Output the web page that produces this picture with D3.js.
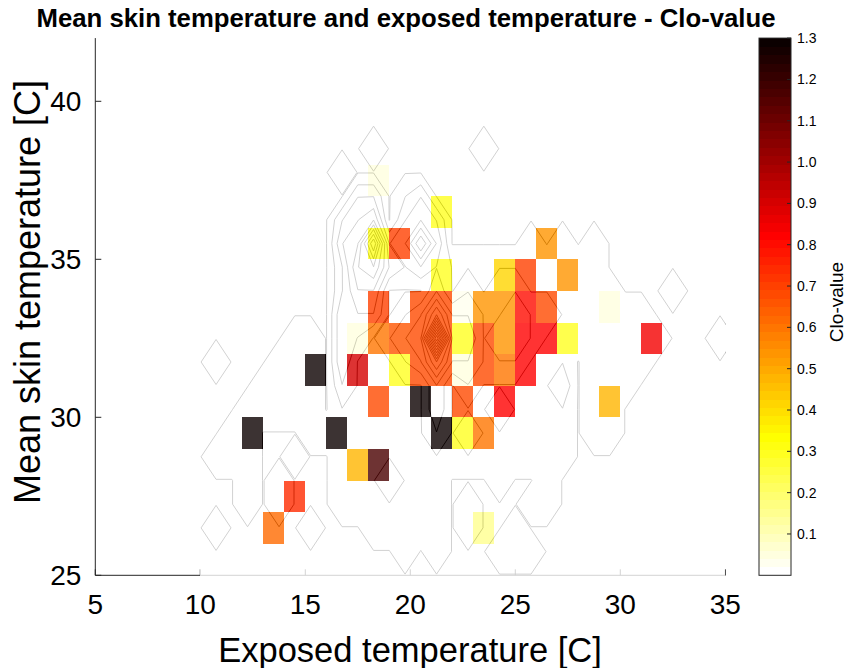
<!DOCTYPE html>
<html>
<head>
<meta charset="utf-8">
<script src="https://cdn.jsdelivr.net/npm/d3@7"></script>
<style>
  body { margin: 0; background: #fff; }
  svg text { font-family: "Liberation Sans", Arial, Helvetica, sans-serif; fill: #000; }
</style>
</head>
<body>
<svg id="chart" width="846" height="668"></svg>
<script>
// Mean clo-value per 1 °C x 1 °C bin: [exposed temp bin start, skin temp bin start, clo]
const cloCells = [
  [18, 37, 0.05],
  [21, 36, 0.30],
  [18, 35, 0.30], [19, 35, 0.70], [26, 35, 0.53],
  [21, 34, 0.30], [24, 34, 0.42], [25, 34, 0.70], [27, 34, 0.53],
  [18, 33, 0.70], [20, 33, 0.68], [21, 33, 0.68], [22, 33, 0.04], [23, 33, 0.53],
  [24, 33, 0.53], [25, 33, 0.80], [26, 33, 0.68], [29, 33, 0.05],
  [17, 32, 0.05], [18, 32, 0.60], [19, 32, 0.66], [20, 32, 0.68], [21, 32, 0.68],
  [22, 32, 0.30], [23, 32, 0.68], [24, 32, 0.53], [25, 32, 0.82], [26, 32, 0.82],
  [27, 32, 0.30], [31, 32, 0.84],
  [15, 31, 1.29], [17, 31, 0.90], [19, 31, 0.30], [20, 31, 0.68], [21, 31, 0.68],
  [22, 31, 0.05], [23, 31, 0.68], [24, 31, 0.60], [25, 31, 0.82],
  [18, 30, 0.68], [20, 30, 1.29], [22, 30, 0.68], [24, 30, 0.82], [29, 30, 0.47],
  [12, 29, 1.29], [16, 29, 1.29], [21, 29, 1.29], [22, 29, 0.30], [23, 29, 0.60],
  [17, 28, 0.47], [18, 28, 1.17],
  [14, 27, 0.75],
  [13, 26, 0.62], [23, 26, 0.15]
];

// Observation density on a 0.75 °C grid.
// Rows of occupied nodes (one observation each): [skin temp, [[exposed from, exposed to], ...]]
const densityRows = [
  [38.5,  [[18.25, 18.25], [23.5, 23.5]]],
  [37.75, [[16.75, 16.75]]],
  [37,    [[17.5, 18.25], [19.75, 20.5]]],
  [36.25, [[16.75, 18.25], [19.75, 21.25]]],
  [35.5,  [[16.75, 21.25], [25.75, 25.75], [27.25, 27.25], [28.75, 28.75]]],
  [34.75, [[16.75, 28.75]]],
  [34,    [[16.75, 29.5], [32.5, 32.5]]],
  [33.25, [[16.75, 31]]],
  [32.5,  [[14.5, 15.25], [16.75, 31.75], [34.75, 34.75]]],
  [31.75, [[10.75, 10.75], [13.75, 15.25], [16.75, 27.25], [28.75, 31]]],
  [31,    [[13, 15.25], [16.75, 27.25], [28.75, 30.25]]],
  [30.25, [[12.25, 15.25], [16.75, 27.25], [28.75, 29.5]]],
  [29.5,  [[11.5, 12.25], [15.25, 27.25], [28.75, 29.5]]],
  [28.75, [[10.75, 12.25], [14.5, 14.5], [16.75, 27.25]]],
  [28,    [[12.25, 12.25], [13.75, 13.75], [16.75, 21.25], [24.25, 24.25], [26.5, 26.5]]],
  [27.25, [[12.25, 12.25], [13.75, 13.75], [16.75, 21.25], [22.75, 22.75], [25.75, 26.5]]],
  [26.5,  [[10.75, 10.75], [15.25, 15.25], [18.25, 21.25], [22.75, 22.75], [25, 25]]],
  [25.75, [[19.75, 19.75], [21.25, 21.25], [24.25, 25.75]]]
];

// Nodes holding more than one observation: [exposed temp, skin temp, count]
const densityPeaks = [
  [18.25, 35.5, 9], [18.25, 34.75, 6], [18.25, 36.25, 4], [17.5, 35.5, 4],
  [17.5, 34.75, 5], [17.5, 36.25, 3], [17.5, 34, 4], [18.25, 34, 4],
  [16.75, 35.5, 3], [16.75, 34.75, 2], [16.75, 36.25, 2], [16.75, 34, 2],
  [16.75, 33.25, 3], [17.5, 33.25, 3], [16.75, 32.5, 3], [17.5, 32.5, 2],
  [16.75, 31.75, 3], [16.75, 31, 2], [17.5, 37, 2], [18.25, 37, 2],
  [19, 35.5, 2], [19, 34.75, 3], [18.25, 33.25, 3],
  [20.5, 35.5, 6], [19.75, 35.5, 3], [21.25, 35.5, 3], [20.5, 36.25, 3],
  [20.5, 34.75, 3], [19.75, 36.25, 2], [21.25, 36.25, 2], [19.75, 34.75, 2],
  [21.25, 34.75, 2], [20.5, 37, 2],
  [21.25, 32.5, 14], [21.25, 33.25, 6], [21.25, 31.75, 6], [20.5, 32.5, 4],
  [22, 32.5, 4], [20.5, 33.25, 3], [22, 33.25, 3], [20.5, 31.75, 3],
  [22, 31.75, 3], [21.25, 34, 3], [21.25, 31, 3], [19.75, 32.5, 3],
  [19.75, 33.25, 2], [19.75, 31.75, 2], [19, 32.5, 2], [21.25, 30.25, 3],
  [21.25, 29.5, 2],
  [22.75, 32.5, 4], [22.75, 33.25, 3], [22.75, 31.75, 3], [23.5, 32.5, 2],
  [23.5, 33.25, 2], [23.5, 31.75, 2], [22.75, 34, 2], [22.75, 31, 2],
  [24.25, 32.5, 3], [24.25, 33.25, 2], [24.25, 31.75, 2], [24.25, 34, 2],
  [25, 33.25, 3], [25, 32.5, 3], [25, 31.75, 2], [25, 34, 2],
  [25.75, 32.5, 2], [25.75, 33.25, 2], [26.5, 33.25, 2],
  [24.25, 30.25, 2], [22.75, 29.5, 2], [27.25, 31, 2], [19, 28, 2]
];

const xTicks = [5, 10, 15, 20, 25, 30, 35];
const yTicks = [25, 30, 35, 40];
const cbTicks = [0.1, 0.2, 0.3, 0.4, 0.5, 0.6, 0.7, 0.8, 0.9, 1.0, 1.1, 1.2, 1.3];

const titleText = "Mean skin temperature and exposed temperature - Clo-value";
const xLabel = "Exposed temperature [C]";
const yLabel = "Mean skin temperature [C]";
const cbLabel = "Clo-value";

// ---- layout ----
const svg = d3.select("#chart");
const x = d3.scaleLinear().domain([5, 35]).range([95.3, 725.3]);
const y = d3.scaleLinear().domain([25, 42]).range([575.3, 38.1]);
const axisColor = "#262626";

// inverted "hot" colormap with 64 levels, clim 0..1.3
function hotColors(m) {
  const n = Math.floor(3 / 8 * m), out = [];
  for (let k = 1; k <= m; k++) {
    const r = k <= n ? k / n : 1;
    const g = k <= n ? 0 : (k <= 2 * n ? (k - n) / n : 1);
    const b = k <= 2 * n ? 0 : (k - 2 * n) / (m - 2 * n);
    out.push(d3.rgb(r * 255, g * 255, b * 255).formatHex());
  }
  return out;
}
const cmap = hotColors(64).reverse();
const color = d3.scaleQuantize().domain([0, 1.3]).range(cmap);

const defs = svg.append("defs");
defs.append("clipPath").attr("id", "plotClip")
  .append("rect")
  .attr("x", x(5)).attr("y", y(42))
  .attr("width", x(35) - x(5)).attr("height", y(25) - y(42) + 1.5);

// ---- axes (drawn first; the translucent image lies over them) ----
const axes = svg.append("g");
axes.append("line").attr("x1", x(5)).attr("x2", x(5)).attr("y1", y(42)).attr("y2", y(25))
  .attr("stroke", axisColor).attr("stroke-width", 1);
axes.append("line").attr("x1", x(5)).attr("x2", x(35)).attr("y1", y(25)).attr("y2", y(25))
  .attr("stroke", axisColor).attr("stroke-width", 1);
axes.selectAll(".xt").data(xTicks).join("line")
  .attr("x1", d => x(d)).attr("x2", d => x(d))
  .attr("y1", y(25)).attr("y2", y(25) - 6)
  .attr("stroke", axisColor);
axes.selectAll(".yt").data(yTicks).join("line")
  .attr("x1", x(5)).attr("x2", x(5) + 6)
  .attr("y1", d => y(d)).attr("y2", d => y(d))
  .attr("stroke", axisColor);

// ---- density contours ----
const step = 0.75, gx0 = 9.25, gy0 = 23.5, nx = 38, ny = 25;
const grid = new Float64Array(nx * ny);
const node = (xv, yv) => Math.round((yv - gy0) / step) * nx + Math.round((xv - gx0) / step);
densityRows.forEach(([yv, segs]) => {
  segs.forEach(([a, b]) => {
    for (let xv = a; xv <= b + 1e-6; xv += step) {
      const k = node(xv, yv);
      grid[k] = Math.max(grid[k], 1);
    }
  });
});
densityPeaks.forEach(([xv, yv, c]) => { grid[node(xv, yv)] = c; });
const maxCount = d3.max(densityPeaks, d => d[2]);
const levels = d3.range(0, maxCount).map(k => k + 0.05);
const contourSet = d3.contours().size([nx, ny]).thresholds(levels)(grid);
const gridProj = d3.geoTransform({
  point(px, py) {
    this.stream.point(x(gx0 + (px - 0.5) * step), y(gy0 + (py - 0.5) * step));
  }
});
const contourPath = d3.geoPath(gridProj);
svg.append("g").attr("clip-path", "url(#plotClip)")
  .selectAll("path").data(contourSet).join("path")
  .attr("d", contourPath)
  .attr("fill", "none")
  .attr("stroke", "#000")
  .attr("stroke-width", 0.9)
  .attr("stroke-linejoin", "round");

// ---- clo-value image (translucent, empty bins are white) ----
const cellMap = new Map(cloCells.map(d => [d[0] + "," + d[1], d[2]]));
const bins = [];
for (let bx = 10; bx < 35; bx++) {
  for (let by = 24; by < 40; by++) {
    const v = cellMap.get(bx + "," + by);
    bins.push({ bx, by, v });
  }
}
svg.append("g").attr("clip-path", "url(#plotClip)")
  .selectAll("rect").data(bins).join("rect")
  .attr("x", d => x(d.bx))
  .attr("y", d => y(d.by + 1))
  .attr("width", d => x(d.bx + 1) - x(d.bx))
  .attr("height", d => y(d.by) - y(d.by + 1))
  .attr("fill", d => d.v === undefined ? "#ffffff" : color(d.v))
  .attr("fill-opacity", 0.8)
  .attr("shape-rendering", "crispEdges");

// ---- tick labels ----
svg.append("g").selectAll("text").data(xTicks).join("text")
  .attr("x", d => x(d)).attr("y", y(25) + 39)
  .attr("text-anchor", "middle")
  .attr("font-size", 28)
  .text(d => d);
svg.append("g").selectAll("text").data(yTicks).join("text")
  .attr("x", x(5) - 14).attr("y", d => y(d) + 10)
  .attr("text-anchor", "end")
  .attr("font-size", 28)
  .text(d => d);

// ---- axis labels and title ----
svg.append("text")
  .attr("x", 410).attr("y", 662)
  .attr("text-anchor", "middle")
  .attr("font-size", 34.5)
  .text(xLabel);
svg.append("text")
  .attr("transform", "translate(40,292) rotate(-90)")
  .attr("text-anchor", "middle")
  .attr("font-size", 36)
  .text(yLabel);
svg.append("text")
  .attr("x", 406).attr("y", 27)
  .attr("text-anchor", "middle")
  .attr("font-size", 25)
  .attr("font-weight", "bold")
  .attr("textLength", 739)
  .attr("lengthAdjust", "spacingAndGlyphs")
  .text(titleText);

// ---- colorbar ----
const cbX = 759, cbW = 32;
const cbY = d3.scaleLinear().domain([0, 1.3]).range([y(25), y(42)]);
const cb = svg.append("g");
const bandStep = 1.3 / cmap.length;
cb.selectAll("rect").data(cmap).join("rect")
  .attr("x", cbX)
  .attr("y", (c, i) => cbY((i + 1) * bandStep))
  .attr("width", cbW)
  .attr("height", (c, i) => cbY(i * bandStep) - cbY((i + 1) * bandStep) + 0.5)
  .attr("fill", c => c)
  .attr("shape-rendering", "crispEdges");
cb.append("rect")
  .attr("x", cbX).attr("y", cbY(1.3))
  .attr("width", cbW).attr("height", cbY(0) - cbY(1.3))
  .attr("fill", "none").attr("stroke", axisColor).attr("stroke-width", 1);
cb.selectAll(".cbt").data(cbTicks).join("line")
  .attr("x1", cbX + cbW - 4).attr("x2", cbX + cbW)
  .attr("y1", d => cbY(d)).attr("y2", d => cbY(d))
  .attr("stroke", axisColor);
cb.selectAll("text").data(cbTicks).join("text")
  .attr("x", cbX + cbW + 6).attr("y", d => cbY(d) + 5)
  .attr("font-size", 14)
  .text(d => d.toFixed(1));
svg.append("text")
  .attr("transform", "translate(843,302) rotate(-90)")
  .attr("text-anchor", "middle")
  .attr("font-size", 19)
  .text(cbLabel);
</script>
</body>
</html>
